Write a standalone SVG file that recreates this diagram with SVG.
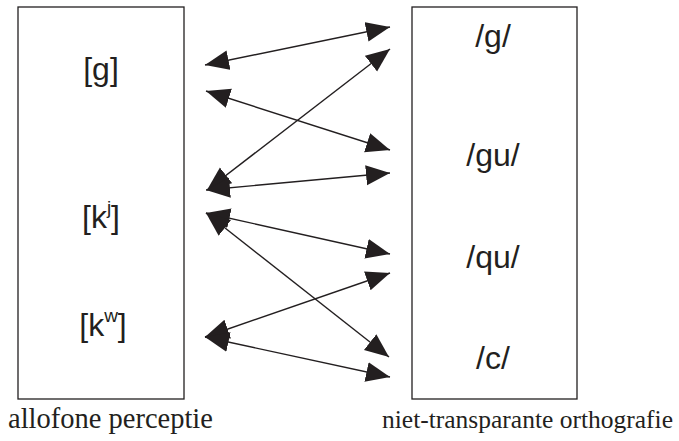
<svg xmlns="http://www.w3.org/2000/svg" width="679" height="441" viewBox="0 0 679 441">
  <style>
    .box { fill: none; stroke: #231f20; stroke-width: 1.3; }
    .lbl { font-family: "Liberation Sans", Arial, sans-serif; font-size: 32px; fill: #231f20; text-anchor: middle; }
    .sup { font-size: 19px; }
    .cap { font-family: "Liberation Serif", "Times New Roman", serif; fill: #231f20; }
    .link { stroke: #231f20; stroke-width: 1.4; fill: none; marker-start: url(#head); marker-end: url(#head); }
  </style>
  <defs>
    <marker id="head" markerUnits="userSpaceOnUse" markerWidth="26" markerHeight="22" refX="24" refY="10" orient="auto-start-reverse">
      <path d="M0,0 L24,10 L0,20 Z" fill="#231f20"/>
    </marker>
  </defs>

  <rect width="679" height="441" fill="#ffffff"/>

  <g id="allofone">
    <rect class="box" x="18" y="7" width="166" height="392"/>
    <text class="cap" x="8" y="428" font-size="28.5">allofone perceptie</text>
  </g>
  <g id="allo-g"><text class="lbl" x="101" y="80">[g]</text></g>
  <g id="allo-kj"><text class="lbl" x="101" y="228">[k<tspan class="sup" dy="-14">j</tspan><tspan dy="14">]</tspan></text></g>
  <g id="allo-kw"><text class="lbl" x="103" y="336">[k<tspan class="sup" dy="-14">w</tspan><tspan dy="14">]</tspan></text></g>

  <g id="orthografie">
    <rect class="box" x="412" y="7" width="165" height="392"/>
    <text class="cap" x="382" y="428" font-size="25.5">niet-transparante orthografie</text>
  </g>
  <g id="orth-g"><text class="lbl" x="493" y="47">/g/</text></g>
  <g id="orth-gu"><text class="lbl" x="493" y="166">/gu/</text></g>
  <g id="orth-qu"><text class="lbl" x="493" y="268">/qu/</text></g>
  <g id="orth-c"><text class="lbl" x="493" y="369">/c/</text></g>

  <g id="connectors">
    <line class="link" x1="205" y1="65" x2="390" y2="27"/>
    <line class="link" x1="206" y1="91" x2="390" y2="150"/>
    <line class="link" x1="207" y1="190" x2="390" y2="49"/>
    <line class="link" x1="206" y1="190" x2="390" y2="173"/>
    <line class="link" x1="206" y1="213" x2="390" y2="254"/>
    <line class="link" x1="206" y1="213" x2="389" y2="357"/>
    <line class="link" x1="205" y1="337" x2="390" y2="273"/>
    <line class="link" x1="205" y1="337" x2="390" y2="377"/>
  </g>
</svg>
